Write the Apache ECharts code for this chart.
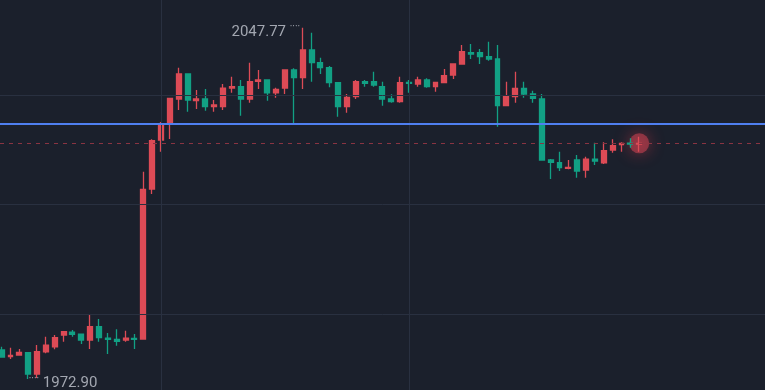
<!DOCTYPE html>
<html><head><meta charset="utf-8">
<script src="https://cdn.jsdelivr.net/npm/echarts@6/dist/echarts.min.js"></script>
<style>html,body{margin:0;padding:0;background:#1b202c;}#c{width:765px;height:390px;}</style>
</head><body><div id="c"></div>
<script>
// OHLC values (one per bar, left to right)
const openVals = [1979.08, 1977.69, 1978.01, 1978.50, 1973.96, 1978.71, 1979.78, 1982.27, 1982.91, 1982.48,
  1981.21, 1984.04, 1981.63, 1981.35, 1981.21, 1981.57, 1981.42, 2013.39, 2023.84, 2027.25,
  2032.57, 2037.90, 2032.21, 2032.57, 2030.93, 2030.93, 2034.91, 2035.19, 2032.57, 2036.34,
  2036.62, 2033.91, 2034.91, 2038.75, 2037.11, 2043.01, 2040.31, 2039.24, 2036.05, 2030.93,
  2033.06, 2036.26, 2036.26, 2035.19, 2032.57, 2032.00, 2036.13, 2035.77, 2036.62, 2035.19,
  2036.05, 2037.69, 2040.03, 2042.44, 2042.44, 2041.59, 2041.10, 2031.14, 2033.06, 2034.85,
  2033.64, 2032.57, 2019.57, 2018.99, 2017.80, 2019.57, 2017.44, 2019.78, 2018.99, 2021.70,
  2022.83, 2023.19, 2022.98];
const closeVals = [1977.59, 1977.95, 1978.58, 1973.96, 1978.71, 1980.14, 1981.70, 1982.97, 1982.42, 1981.21,
  1984.04, 1981.70, 1981.35, 1980.93, 1981.63, 1981.35, 2013.33, 2023.69, 2027.14, 2032.68,
  2037.90, 2032.36, 2032.57, 2030.93, 2031.29, 2034.91, 2035.19, 2032.57, 2036.26, 2036.62,
  2033.91, 2034.64, 2038.75, 2037.11, 2043.01, 2040.31, 2039.24, 2036.05, 2030.93, 2032.94,
  2036.26, 2035.92, 2035.56, 2032.57, 2032.00, 2036.05, 2035.92, 2036.62, 2035.19, 2036.13,
  2037.54, 2040.03, 2042.65, 2042.16, 2041.59, 2041.10, 2031.14, 2033.06, 2034.85, 2033.64,
  2032.72, 2019.57, 2019.08, 2017.93, 2018.01, 2017.22, 2019.78, 2019.36, 2021.55, 2022.62,
  2023.13, 2022.98, 2023.13];
const lowVals = [1977.52, 1977.16, 1977.95, 1972.90, 1973.11, 1978.37, 1979.22, 1980.84, 1981.91, 1980.35,
  1979.29, 1980.84, 1978.22, 1979.99, 1980.84, 1979.29, 1981.31, 2012.33, 2021.34, 2024.05,
  2030.23, 2029.87, 2030.44, 2030.08, 2029.87, 2030.23, 2033.91, 2029.01, 2031.78, 2034.70,
  2032.21, 2032.85, 2033.64, 2027.39, 2034.70, 2036.26, 2037.90, 2035.06, 2028.80, 2029.65,
  2032.57, 2035.19, 2035.19, 2031.15, 2031.78, 2031.78, 2033.91, 2035.19, 2034.98, 2034.13,
  2035.92, 2036.83, 2039.88, 2041.10, 2040.03, 2040.73, 2026.67, 2031.08, 2031.78, 2032.85,
  2031.78, 2019.42, 2015.52, 2017.22, 2017.59, 2015.80, 2015.80, 2018.50, 2018.72, 2021.12,
  2021.34, 2022.19, 2021.34];
const highVals = [1979.78, 1979.56, 1979.29, 1978.65, 1980.14, 1981.91, 1982.27, 1983.06, 1983.34, 1982.55,
  1986.53, 1985.68, 1982.70, 1983.49, 1983.19, 1982.49, 2017.08, 2023.99, 2027.67, 2032.79,
  2039.25, 2038.01, 2034.49, 2034.70, 2032.36, 2035.77, 2037.32, 2036.62, 2040.31, 2038.75,
  2036.77, 2034.98, 2038.90, 2039.11, 2047.77, 2046.70, 2041.37, 2039.61, 2036.20, 2033.64,
  2036.62, 2036.62, 2038.39, 2036.26, 2033.57, 2037.32, 2036.62, 2037.32, 2036.98, 2036.20,
  2038.96, 2040.18, 2044.08, 2044.29, 2043.23, 2044.78, 2044.08, 2036.26, 2038.39, 2036.26,
  2034.34, 2033.64, 2019.78, 2021.34, 2019.57, 2020.63, 2020.27, 2023.26, 2023.34, 2023.99,
  2023.34, 2024.19, 2024.54];

// horizontal reference (alert) line and grid levels
const alertLevel = 2027.35;
const gridPrices = [2033.43, 2010.07, 1986.71];
const gridBars = [18, 46];

const UP = '#dd4b56', DOWN = '#12a084', TXT = '#a3a7b1';

const candleData = openVals.map((o, i) => [i, o, closeVals[i], lowVals[i], highVals[i]]);
const last = openVals.length - 1;
let iHi = 0, iLo = 0;
highVals.forEach((v, i) => { if (v > highVals[iHi]) iHi = i; });
lowVals.forEach((v, i) => { if (v < lowVals[iLo]) iLo = i; });

const rich = {
  v: { fontSize: 15, fontFamily: 'Roboto', color: TXT, lineHeight: 16, verticalAlign: 'bottom' },
  d: { fontSize: 10, fontFamily: 'Roboto', color: TXT, lineHeight: 24 }
};

const chart = echarts.init(document.getElementById('c'), null, { renderer: 'canvas' });
chart.setOption({
  animation: false,
  backgroundColor: '#1b202c',
  grid: { left: 0, right: 0, top: 0, bottom: 0 },
  xAxis: { type: 'value', min: -0.18, max: 86.2, show: true,
    axisLine: { show: false }, axisTick: { show: false }, axisLabel: { show: false }, splitLine: { show: false } },
  yAxis: { type: 'value', min: 1970.56, max: 2053.67, scale: true,
    axisLine: { show: false }, axisTick: { show: false }, axisLabel: { show: false }, splitLine: { show: false } },
  series: [
    { type: 'line', data: [], z: 1, silent: true,
      markLine: { silent: true, symbol: ['none', 'none'], label: { show: false },
        lineStyle: { color: '#293040', width: 1, type: 'solid' },
        data: gridPrices.map(v => ({ yAxis: v })).concat(gridBars.map(i => ({ xAxis: i }))) } },
    { type: 'line', data: [], z: 2, silent: true,
      markLine: { silent: true, symbol: ['none', 'none'], label: { show: false },
        lineStyle: { color: '#8a3442', width: 1, type: [4, 5], opacity: 1 },
        data: [{ yAxis: closeVals[last] }] } },
    { type: 'scatter', z: 2, silent: true,
      data: [[last, closeVals[last]]], symbolSize: 20,
      itemStyle: { color: 'rgba(245,75,90,0.55)', shadowBlur: 16, shadowColor: 'rgba(245,60,75,1)' } },
    { type: 'candlestick', z: 3,
      data: candleData,
      encode: { x: 0, y: [1, 2, 3, 4] },
      barWidth: 5.4,
      itemStyle: { color: UP, color0: DOWN, borderColor: UP, borderColor0: DOWN, borderWidth: 1.3 },
      markLine: { silent: true, symbol: ['none', 'none'], label: { show: false },
        lineStyle: { color: '#4f7ff0', width: 2.2, type: 'solid' },
        data: [{ yAxis: alertLevel }] },
      markPoint: { silent: true, symbol: 'circle', symbolSize: 1, itemStyle: { color: 'rgba(0,0,0,0)' },
        data: [
          { coord: [iHi, highVals[iHi]], value: highVals[iHi],
            label: { show: true, position: 'left', distance: 2, rich,
              formatter: '{v|' + highVals[iHi].toFixed(2) + ' }{d|····}' } },
          { coord: [iLo, lowVals[iLo]], value: lowVals[iLo],
            label: { show: true, position: 'right', distance: 0, rich,
              formatter: '{d|····}{v| ' + lowVals[iLo].toFixed(2) + '}' } }
        ] } }
  ]
});
</script>
</body></html>
